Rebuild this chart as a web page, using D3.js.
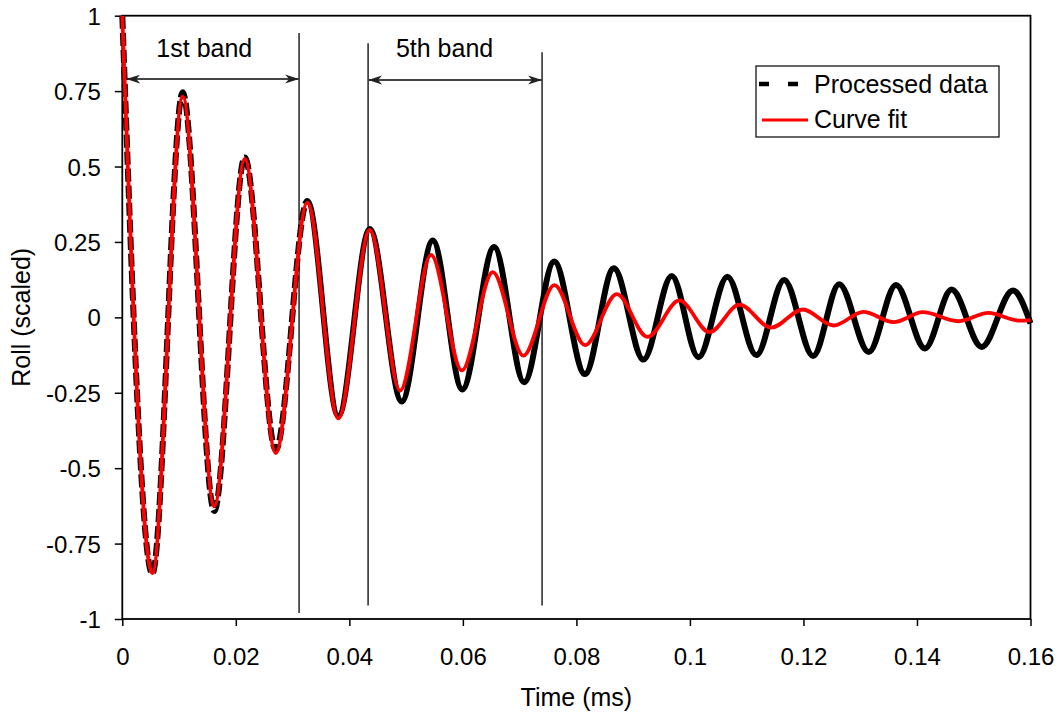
<!DOCTYPE html>
<html>
<head>
<meta charset="utf-8">
<script src="https://cdn.jsdelivr.net/npm/d3@7"></script>
<style>
  body { margin: 0; background: #fff; }
  svg text { font-family: "Liberation Sans", Arial, sans-serif; fill: #000; }
</style>
</head>
<body>
<svg id="chart" width="1062" height="719"></svg>
<script>
var timeProcessed = [0, 0.00529, 0.01064, 0.0162, 0.02157, 0.02703, 0.0326, 0.03806, 0.0436, 0.04923,
    0.0547, 0.0599, 0.0655, 0.0708, 0.0761, 0.0815, 0.0866, 0.0918, 0.0968, 0.1015,
    0.1066, 0.1117, 0.1166, 0.1217, 0.1263, 0.1315, 0.1363, 0.1414, 0.1461, 0.1514,
    0.1569, 0.16]
var rollProcessed = [1, -0.85, 0.746, -0.642, 0.53, -0.44, 0.386, -0.327, 0.293, -0.279,
    0.255, -0.239, 0.233, -0.215, 0.185, -0.188, 0.163, -0.14, 0.137, -0.132,
    0.135, -0.125, 0.124, -0.128, 0.11, -0.115, 0.107, -0.103, 0.092, -0.098,
    0.089, -0.02]

// curve fit
var timeFit = [0, 0.00529, 0.01064, 0.0162, 0.02157, 0.02703, 0.0326, 0.03806, 0.0436, 0.04893,
    0.0544, 0.05981, 0.06527, 0.07066, 0.07612, 0.08153, 0.08712, 0.09251, 0.09815, 0.10344,
    0.10872, 0.11431, 0.11989, 0.12529, 0.13057, 0.13586, 0.14104, 0.14731, 0.1526, 0.158,
    0.16]
var rollFit = [1, -0.848, 0.732, -0.626, 0.525, -0.45, 0.38, -0.335, 0.29, -0.243,
    0.207, -0.176, 0.15, -0.127, 0.107, -0.092, 0.077, -0.065, 0.056, -0.049,
    0.042, -0.034, 0.026, -0.027, 0.018, -0.016, 0.017, -0.013, 0.015, -0.011,
    -0.009]

var xTicks = [0, 0.02, 0.04, 0.06, 0.08, 0.1, 0.12, 0.14, 0.16]
var yTicks = [-1, -0.75, -0.5, -0.25, 0, 0.25, 0.5, 0.75, 1]

// band markers: vertical lines (time, top, bottom) and arrows
var bandLines = [[0.03114, 0.943, -0.98], [0.0433, 0.909, -0.955], [0.07395, 0.879, -0.955]]
var bandArrows = [[0.0007, 0.03114, 0.79], [0.0433, 0.07395, 0.787]]
var bandLabels = [['1st band', 0.006, 0.864], ['5th band', 0.0482, 0.862]]

var plotLeft = 122.3, plotRight = 1030.5, plotTop = 15.7, plotBottom = 619
var dashedUntil = 0.0326

var svg = d3.select('#chart')

var x = d3.scaleLinear().domain([0, 0.16]).range([plotLeft, plotRight])
var y = d3.scaleLinear().domain([-1, 1]).range([plotBottom, plotTop])

svg.append('defs').append('marker')
    .attr('id', 'arr').attr('viewBox', '0 -5 14 10')
    .attr('refX', 14).attr('refY', 0)
    .attr('markerWidth', 14).attr('markerHeight', 10)
    .attr('markerUnits', 'userSpaceOnUse')
    .attr('orient', 'auto-start-reverse')
    .append('path').attr('d', 'M0,-4.5L14,0L0,4.5L4,0Z').attr('fill', '#222')

var xAxis = svg.append('g').attr('transform', 'translate(0,' + plotBottom + ')')
    .call(d3.axisBottom(x).tickValues(xTicks).tickFormat(function (d) { return String(d) })
        .tickSize(7).tickSizeOuter(0).tickPadding(22))
var yAxis = svg.append('g').attr('transform', 'translate(' + plotLeft + ',0)')
    .call(d3.axisLeft(y).tickValues(yTicks).tickFormat(function (d) { return String(d) })
        .tickSize(7.5).tickSizeOuter(0).tickPadding(14))

svg.selectAll('.domain').remove()
svg.selectAll('.tick line').attr('stroke', '#000').attr('stroke-width', 1.5)
svg.selectAll('.tick text').attr('font-size', '24px').attr('fill', '#000')
    .attr('font-family', '"Liberation Sans", Arial, sans-serif')
yAxis.selectAll('.tick text').attr('dy', '0.36em')

svg.append('rect')
    .attr('x', plotLeft).attr('y', plotTop).attr('width', plotRight - plotLeft).attr('height', plotBottom - plotTop)
    .attr('fill', 'none').attr('stroke', '#000').attr('stroke-width', 1.8)

svg.append('text').text('Time (ms)')
    .attr('x', (plotLeft + plotRight) / 2).attr('y', 706)
    .attr('text-anchor', 'middle').attr('font-size', '25px')
svg.append('text').text('Roll (scaled)')
    .attr('transform', 'translate(30,' + y(0) + ') rotate(-90)')
    .attr('text-anchor', 'middle').attr('font-size', '25px')

// band annotations
svg.selectAll('.bandline').data(bandLines).enter().append('line')
    .attr('class', 'bandline')
    .attr('x1', function (d) { return x(d[0]) }).attr('x2', function (d) { return x(d[0]) })
    .attr('y1', function (d) { return y(d[1]) }).attr('y2', function (d) { return y(d[2]) })
    .attr('stroke', '#000').attr('stroke-width', 1.3)

svg.selectAll('.bandarrow').data(bandArrows).enter().append('line')
    .attr('class', 'bandarrow')
    .attr('x1', function (d) { return x(d[0]) }).attr('x2', function (d) { return x(d[1]) })
    .attr('y1', function (d) { return y(d[2]) }).attr('y2', function (d) { return y(d[2]) })
    .attr('stroke', '#444').attr('stroke-width', 2)
    .attr('marker-start', 'url(#arr)').attr('marker-end', 'url(#arr)')

svg.selectAll('.bandlabel').data(bandLabels).enter().append('text')
    .attr('class', 'bandlabel')
    .text(function (d) { return d[0] })
    .attr('x', function (d) { return x(d[1]) }).attr('y', function (d) { return y(d[2]) })
    .attr('font-size', '25px')

// series
var processed = timeProcessed.map(function (t, i) { return [t, rollProcessed[i]] })
var fit = timeFit.map(function (t, i) { return [t, rollFit[i]] })

var line = d3.line()
    .x(function (d) { return x(d[0]) })
    .y(function (d) { return y(d[1]) })
    .curve(d3.curveMonotoneX)

var plot = svg.append('g')

var blackPath = plot.append('path').datum(processed)
    .attr('d', line).attr('fill', 'none')
    .attr('stroke', '#000').attr('stroke-width', 6)
    .attr('stroke-linejoin', 'round')

// dashes on the steep early part only, solid afterwards
var node = blackPath.node()
var total = node.getTotalLength()
var lo = 0, hi = total
while (hi - lo > 0.5) {
    var mid = (lo + hi) / 2
    if (node.getPointAtLength(mid).x < x(dashedUntil)) lo = mid
    else hi = mid
}
var dashes = []
var run = 0
while (run + 17 < lo) { dashes.push(13, 4); run += 17 }
dashes.push(lo - run + total, 0)
blackPath.attr('stroke-dasharray', dashes.join(','))

plot.append('path').datum(fit)
    .attr('d', line).attr('fill', 'none')
    .attr('stroke', '#ff0000').attr('stroke-width', 3.8)
    .attr('stroke-linejoin', 'round')

// legend
var legend = svg.append('g')
legend.append('rect')
    .attr('x', 756).attr('y', 66).attr('width', 243).attr('height', 71)
    .attr('fill', '#fff').attr('stroke', '#000').attr('stroke-width', 1.2)
legend.append('line')
    .attr('x1', 759).attr('x2', 808).attr('y1', 84).attr('y2', 84)
    .attr('stroke', '#000').attr('stroke-width', 4.5).attr('stroke-dasharray', '10,19')
legend.append('line')
    .attr('x1', 762).attr('x2', 808).attr('y1', 120).attr('y2', 120)
    .attr('stroke', '#ff0000').attr('stroke-width', 3)
legend.append('text').text('Processed data').attr('x', 814).attr('y', 93).attr('font-size', '25px')
legend.append('text').text('Curve fit').attr('x', 814).attr('y', 128).attr('font-size', '25px')
</script>
</body>
</html>
